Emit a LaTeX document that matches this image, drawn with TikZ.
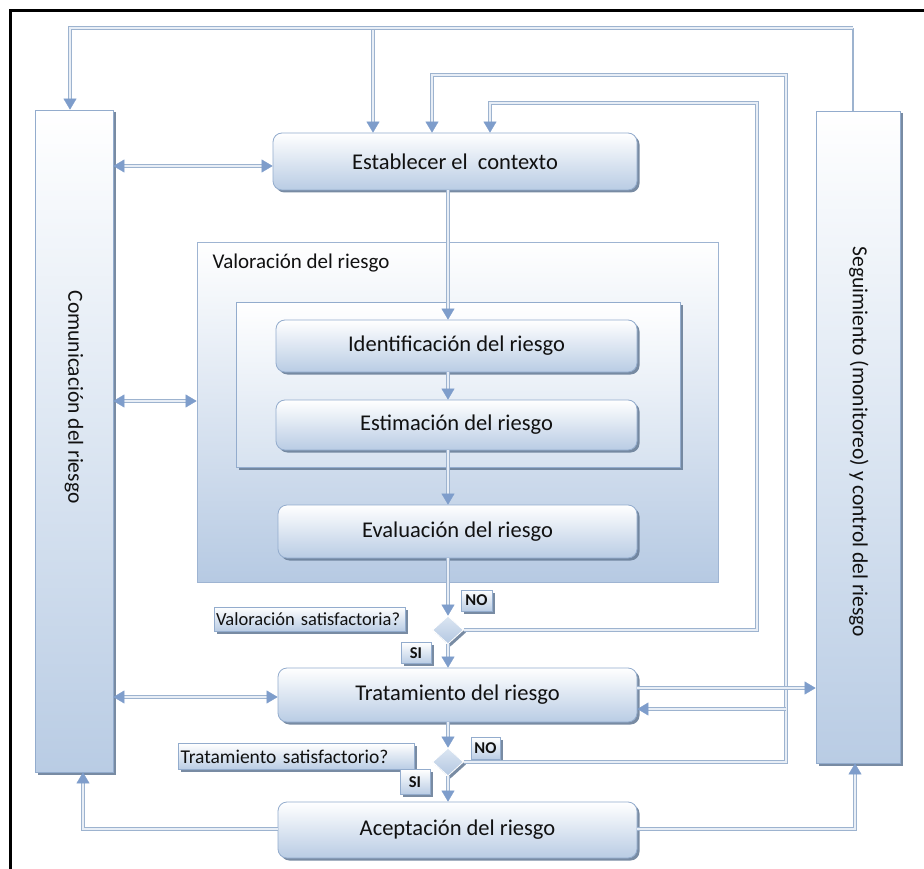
\documentclass[tikz,border=0pt]{standalone}
\usepackage{fontspec}
\setmainfont{Carlito}
\usetikzlibrary{arrows.meta,shapes.geometric,shadows,calc}

\definecolor{edgeblue}{HTML}{9DB3CF}
\definecolor{fillline}{HTML}{E8EEF6}
\definecolor{tipblue}{HTML}{7E9DCB}
\definecolor{boxedge}{HTML}{93ACCD}
\definecolor{boxblue}{HTML}{B9CCE4}
\definecolor{paleblue}{HTML}{DCE6F2}
\definecolor{shade}{HTML}{6A7F99}
\definecolor{ink}{HTML}{111111}

\tikzset{
  >={Triangle[length=11pt,width=13pt,line width=0.4pt,color=tipblue,fill=tipblue]},
  conn/.style={draw=edgeblue, double=fillline, double distance=2.2pt, line width=0.9pt},
  tip/.style={->},
  both/.style={<->},
  thinl/.style={draw=edgeblue, line width=1.2pt},
  softshadow/.style={drop shadow={shadow xshift=2.5pt, shadow yshift=-2.5pt, fill=shade, opacity=0.9}},
  rbox/.style={rounded corners=9pt, draw=boxedge, line width=0.8pt,
    top color=white, bottom color=boxblue, softshadow,
    minimum height=#1, minimum width=360pt, inner sep=0pt,
    font=\fontsize{22.5}{25}\selectfont, text=ink},
  colbox/.style={draw=boxedge, line width=0.8pt, top color=white,
    bottom color=boxblue, middle color=paleblue, softshadow, inner sep=0pt},
  coltext/.style={rotate=-90, font=\fontsize{21.5}{24}\selectfont, text=ink},
  lab/.style={draw=boxedge, line width=0.6pt, top color=white,
    bottom color=boxblue, softshadow, inner sep=0pt, text=ink},
  yesno/.style={lab, font=\bfseries\fontsize{16.5}{18}\selectfont},
  decision/.style={diamond, draw=white, line width=0.8pt, top color=paleblue,
    bottom color=boxblue!90!tipblue, softshadow, inner sep=0pt,
    minimum width=31pt, minimum height=28pt},
}

\begin{document}
\begin{tikzpicture}[x=1pt,y=-1pt]
\useasboundingbox (0,0) rectangle (924,869);
\fill[white] (0,0) rectangle (924,869);
\draw[line width=2.6pt] (10.7,869) -- (10.7,10.7) -- (924,10.7);

% containers of the assessment stage
\node[draw=boxedge!90, line width=0.8pt, top color=white, bottom color=boxblue!95!tipblue,
      minimum width=521pt, minimum height=340pt, inner sep=0pt] (valor) at (457.5,412) {};
\node[anchor=west, font=\fontsize{21}{24}\selectfont, text=ink] (vtitle) at (209,263) {Valoración del riesgo};
\node[draw=boxedge, line width=0.8pt, top color=white, bottom color=paleblue!85!boxblue, softshadow,
      minimum width=444pt, minimum height=165pt, inner sep=0pt] (inner) at (458,384.5) {};

% side columns
\node[colbox, minimum width=78pt, minimum height=662pt] (com) at (74,441) {};
\node[coltext] (comtxt) at (74,397) {Comunicación del riesgo};
\node[colbox, minimum width=84pt, minimum height=652pt] (seg) at (858,437) {};
\node[coltext] (segtxt) at (859,442) {Seguimiento (monitoreo) y control del riesgo};

% process steps
\node[rbox=57pt, minimum width=364pt] (est) at (455,161.5) {Establecer el\ \ contexto};
\node[rbox=52pt, minimum width=361pt] (ident) at (456.5,346) {Identificación del riesgo};
\node[rbox=50pt, minimum width=361pt] (estim) at (456.5,425) {Estimación del riesgo};
\node[rbox=53pt, minimum width=359pt] (eval) at (457.5,531.5) {Evaluación del riesgo};
\node[rbox=54pt, minimum width=359pt] (trat) at (457.5,695) {Tratamiento del riesgo};
\node[rbox=56pt, minimum width=359pt] (acep) at (457.5,830) {Aceptación del riesgo};

% decisions
\node[decision] (d1) at (448,630) {};
\node[decision] (d2) at (448,762) {};
\node[lab, minimum width=191pt, minimum height=24pt, text width=187pt, align=left,
      font=\fontsize{18.5}{20}\selectfont] (vsat) at (309.5,619) {Valoración satisfactoria?};
\node[yesno, minimum width=30pt, minimum height=21pt] (si1) at (416,653) {SI};
\node[yesno, minimum width=31pt, minimum height=21pt] (no1) at (476.5,600.5) {NO};
\node[lab, minimum width=236pt, minimum height=26pt, text width=232pt, align=left,
      font=\fontsize{19.5}{21}\selectfont] (tsat) at (296.5,756.5) {Tratamiento satisfactorio?};
\node[yesno, minimum width=30pt, minimum height=25pt] (si2) at (415,782) {SI};
\node[yesno, minimum width=29pt, minimum height=22pt] (no2) at (485.5,748.5) {NO};

% routing coordinates
\coordinate (fx) at (448,0);
\coordinate (tR) at (853,28);
\coordinate (tL) at (70,28);
\coordinate (tM) at (373,28);
\coordinate (iR) at (757,0);
\coordinate (iT) at (490,103);
\coordinate (oR) at (786,0);
\coordinate (oT) at (432,75);
\coordinate (ya) at (0,166);
\coordinate (yv) at (0,401);
\coordinate (yt) at (0,697);
\coordinate (ty1) at (0,688);
\coordinate (ty2) at (0,709);
\coordinate (yb) at (0,829);
\coordinate (bx1) at (83,0);
\coordinate (bx2) at (855,0);

% top feedback from monitoring
\draw[thinl] (seg.north -| tR) -- (tR);
\draw[conn,tip] (tM) -- (est.north -| tM);
\draw[conn,tip] (tR) -- (tL) -- (com.north -| tL);

% feedback loops back to the context
\draw[conn,tip] (d1.east) -- (d1.east -| iR) |- (iT) -- (est.north -| iT);
\draw[conn,tip] (d2.east) -- (d2.east -| oR) |- (oT) -- (est.north -| oT);

% communication links
\draw[conn,both] (com.east |- ya) -- (est.west |- ya);
\draw[conn,both] (com.east |- yv) -- (valor.west |- yv);
\draw[conn,both] (com.east |- yt) -- (trat.west |- yt);

% treatment and monitoring
\draw[conn,tip] (trat.east |- ty1) -- (seg.west |- ty1);
\draw[conn,tip] (oR |- ty2) -- (trat.east |- ty2);

% main flow
\draw[conn,tip] (est.south -| fx) -- (ident.north -| fx);
\draw[conn,tip] (ident.south -| fx) -- (estim.north -| fx);
\draw[conn,tip] (estim.south -| fx) -- (eval.north -| fx);
\draw[conn,tip] (eval.south -| fx) -- (d1.north);
\draw[conn,tip] (d1.south) -- (trat.north -| fx);
\draw[conn,tip] (trat.south -| fx) -- (d2.north);
\draw[conn,tip] (d2.south) -- (acep.north -| fx);

% acceptance reports to both columns
\draw[conn,tip] (acep.west |- yb) -| (com.south -| bx1);
\draw[conn,tip] (acep.east |- yb) -| (seg.south -| bx2);
\end{tikzpicture}
\end{document}
